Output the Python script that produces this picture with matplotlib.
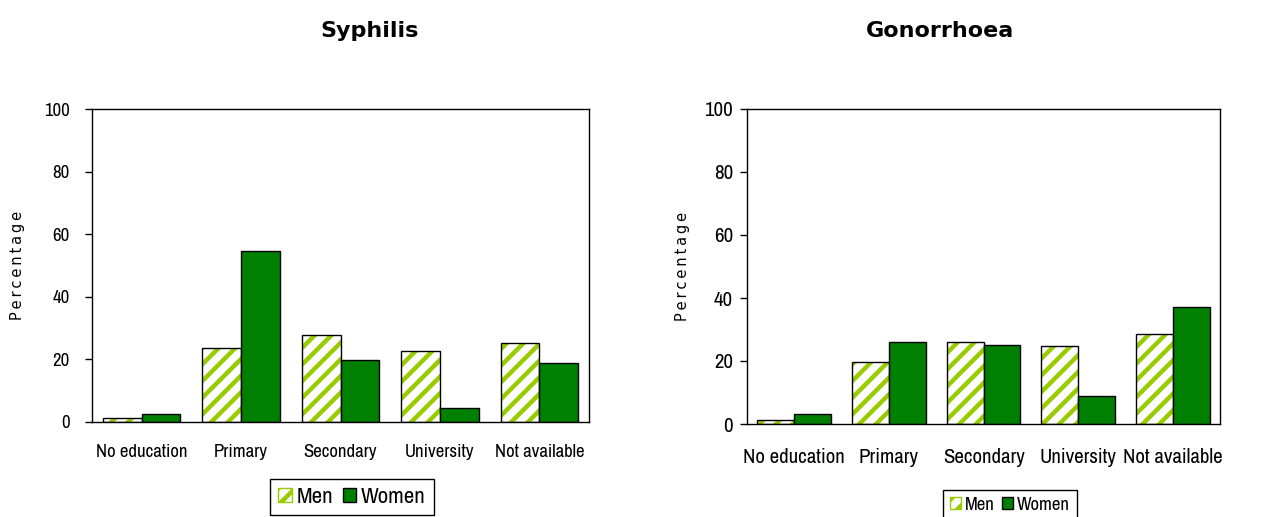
import matplotlib
matplotlib.use("Agg")
import matplotlib.pyplot as plt
from matplotlib.patches import Patch
from matplotlib import font_manager

categories = ["No education", "Primary", "Secondary", "University", "Not available"]
syphilis_men = [1.3, 23.6, 27.9, 22.8, 25.3]
syphilis_women = [2.7, 54.7, 19.7, 4.4, 18.9]
gonorrhoea_men = [1.3, 19.6, 26.0, 24.7, 28.5]
gonorrhoea_women = [3.1, 26.0, 25.1, 9.0, 37.1]
yticks = [0, 20, 40, 60, 80, 100]

MEN_COLOR = "#99cc00"
WOMEN_COLOR = "#008000"

installed = {f.name for f in font_manager.fontManager.ttflist}
narrow = "DejaVu Sans"
for cand in ["Liberation Sans Narrow", "Arial Narrow", "Archivo Narrow", "PT Sans Narrow",
             "Roboto Condensed", "Open Sans Condensed"]:
    if cand in installed:
        narrow = cand
        break

plt.rcParams["hatch.linewidth"] = 3.2


def draw_panel(ax, men, women, tick_size, cat_size, ypad, xpad):
    x = list(range(len(categories)))
    w = 0.39
    xm = [i - w / 2 for i in x]
    xw = [i + w / 2 for i in x]
    # hatched men bars: hatch first, then a black outline on top
    ax.bar(xm, men, w, color="white", edgecolor=MEN_COLOR, hatch="//", linewidth=0)
    ax.bar(xm, men, w, fill=False, edgecolor="black", linewidth=1)
    ax.bar(xw, women, w, color=WOMEN_COLOR, edgecolor="black", linewidth=1)
    ax.set_xlim(-0.5, len(categories) - 0.5)
    ax.set_ylim(0, 100)
    ax.set_yticks(yticks)
    ax.set_yticklabels([str(t) for t in yticks], fontsize=tick_size, family=narrow)
    ax.set_xticks(x)
    ax.set_xticklabels(categories, fontsize=cat_size, family=narrow)
    ax.tick_params(axis="x", length=0, pad=xpad)
    ax.tick_params(axis="y", length=5, width=1, direction="out", pad=ypad)
    for s in ax.spines.values():
        s.set_linewidth(1)
    ax.set_ylabel("\u2009".join("Percentage"), fontsize=10.5, family="DejaVu Sans")


fig = plt.figure(figsize=(12.7, 5.17), dpi=100)
ax1 = fig.add_axes([92 / 1270, 95 / 517, 497 / 1270, 313 / 517])
ax2 = fig.add_axes([747 / 1270, 93 / 517, 473 / 1270, 315 / 517])

draw_panel(ax1, syphilis_men, syphilis_women, 13.5, 13.5, 11, 16)
draw_panel(ax2, gonorrhoea_men, gonorrhoea_women, 15, 15, 5, 17)
ax1.yaxis.set_label_coords(-0.135, 0.5)
ax2.yaxis.set_label_coords(-0.12, 0.5)

fig.text(370 / 1270, 1 - 31 / 517, "Syphilis", fontsize=16, fontweight="bold",
         ha="center", va="center")
fig.text(940 / 1270, 1 - 31 / 517, "Gonorrhoea", fontsize=16, fontweight="bold",
         ha="center", va="center")

handles = [
    Patch(facecolor="white", edgecolor=MEN_COLOR, hatch="//", label="Men"),
    Patch(facecolor=WOMEN_COLOR, edgecolor="black", label="Women"),
]
legend_specs = [
    (ax1, (352 / 1270, 1 - 497 / 517), 16.5),
    (ax2, (1010 / 1270, 1 - 505 / 517), 13.5),
]
for ax, anchor, size in legend_specs:
    leg = fig.legend(handles=handles, loc="center", bbox_to_anchor=anchor, ncol=2,
                     prop={"family": narrow, "size": size}, frameon=True, fancybox=False,
                     handlelength=0.6, handleheight=0.6, handletextpad=0.2,
                     columnspacing=0.4, borderpad=0.35, borderaxespad=0)
    leg.get_frame().set_edgecolor("black")
    leg.get_frame().set_linewidth(1)
    leg.get_frame().set_alpha(None)

fig.savefig("out.png", dpi=100)
